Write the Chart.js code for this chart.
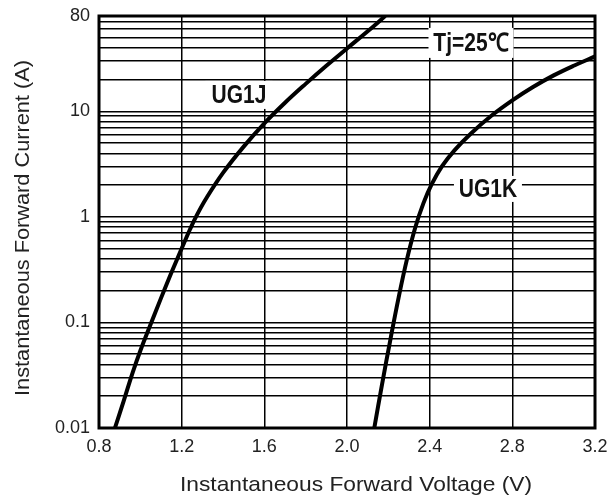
<!DOCTYPE html>
<html lang="en">
  <head>
    <meta charset="utf-8">
    <title>Forward Characteristics</title>
    <style>
      body {
        margin: 0;
        background: #fff;
      }
      #chart-box {
        width: 608px;
        height: 499px;
      }
    </style>
    <script src="https://cdn.jsdelivr.net/npm/chart.js@4.4.4/dist/chart.umd.min.js"></script>
  </head>
  <body>
    <div id="chart-box"><canvas id="iv-plot" width="608" height="499"></canvas></div>
    <script>
      // values (V, A)
      const ug1j_voltage = [0.877, 0.92, 0.964, 1.0, 1.047, 1.1, 1.15, 1.202, 1.24, 1.274, 1.32, 1.4, 1.5, 1.6, 1.7, 1.8, 1.9, 2.0, 2.1, 2.185];
      const ug1j_current = [0.01, 0.0182, 0.034, 0.054, 0.093, 0.17, 0.295, 0.513, 0.76, 1.045, 1.51, 2.61, 4.63, 7.69, 12.05, 18.2, 27.0, 39.4, 57.3, 80];
      const ug1k_voltage = [2.132, 2.17, 2.21, 2.25, 2.29, 2.33, 2.37, 2.41, 2.46, 2.52, 2.6, 2.7, 2.8, 2.9, 3.0, 3.1, 3.2];
      const ug1k_current = [0.01, 0.0262, 0.0689, 0.173, 0.396, 0.79, 1.35, 2.04, 3.02, 4.27, 6.17, 9.12, 12.7, 17.0, 21.9, 27.2, 33.1];

      const x_ticks = [0.8, 1.2, 1.6, 2.0, 2.4, 2.8, 3.2];
      const y_gridlines = [
        0.01, 0.02, 0.03, 0.04, 0.05, 0.06, 0.07, 0.08, 0.09,
        0.1, 0.2, 0.3, 0.4, 0.5, 0.6, 0.7, 0.8, 0.9,
        1, 2, 3, 4, 5, 6, 7, 8, 9,
        10, 20, 30, 40, 50, 60, 70, 80,
      ];
      const y_tick_labels = [0.01, 0.1, 1, 10, 80];

      const x_title = 'Instantaneous Forward Voltage (V)';
      const y_title = 'Instantaneous Forward Current (A)';

      const label_font = '"Liberation Sans", Arial, sans-serif';

      function toPoints(xs, ys) {
        return xs.map((v, i) => ({x: v, y: ys[i]}));
      }

      const frame_plugin = {
        id: 'frame',
        beforeDatasetsDraw(chart) {
          const ctx = chart.ctx;
          const x = chart.scales.x;
          const y = chart.scales.y;
          // curve names sit in white boxes that blank the grid
          const notes = [
            {text: 'UG1J', v: 1.477, i: 14.3, w: 67, h: 28},
            {text: 'UG1K', v: 2.682, i: 1.84, w: 68, h: 26},
            {text: 'Tj=25\u2103', v: 2.60, i: 44.5, w: 85, h: 30},
          ];
          notes.forEach(note => {
            const cx = x.getPixelForValue(note.v);
            const cy = y.getPixelForValue(note.i);
            ctx.save();
            ctx.fillStyle = '#fff';
            ctx.fillRect(cx - note.w / 2, cy - note.h / 2, note.w, note.h);
            ctx.translate(cx, cy);
            ctx.scale(1, 1.2);
            ctx.font = 'bold 21px ' + label_font;
            ctx.textAlign = 'center';
            ctx.textBaseline = 'middle';
            ctx.fillStyle = '#111';
            ctx.fillText(note.text, 0, 1);
            ctx.restore();
          });
        },
        afterDatasetsDraw(chart) {
          const ctx = chart.ctx;
          const a = chart.chartArea;
          ctx.save();
          ctx.lineWidth = 3;
          ctx.strokeStyle = '#000';
          ctx.strokeRect(a.left, a.top, a.right - a.left, a.bottom - a.top);

          // axis titles
          ctx.fillStyle = '#222';
          ctx.font = '21px ' + label_font;
          ctx.textAlign = 'center';
          ctx.textBaseline = 'middle';
          ctx.save();
          ctx.translate((a.left + a.right) / 2 + 9, chart.height - 14);
          ctx.scale(1.085, 1);
          ctx.fillText(x_title, 0, 0);
          ctx.restore();
          ctx.save();
          ctx.translate(23, (a.top + a.bottom) / 2 + 6);
          ctx.rotate(-Math.PI / 2);
          ctx.scale(1.035, 1);
          ctx.fillText(y_title, 0, 0);
          ctx.restore();
          ctx.restore();
        }
      };

      const line_style = {
        borderColor: '#000',
        borderWidth: 4,
        pointRadius: 0,
        fill: false,
        tension: 0.4,
      };

      new Chart(document.getElementById('iv-plot'), {
        type: 'line',
        data: {
          datasets: [
            Object.assign({label: 'UG1J', data: toPoints(ug1j_voltage, ug1j_current)}, line_style),
            Object.assign({label: 'UG1K', data: toPoints(ug1k_voltage, ug1k_current)}, line_style),
          ]
        },
        options: {
          responsive: false,
          animation: false,
          layout: {
            padding: {top: 16, right: 13, left: 0, bottom: 0}
          },
          plugins: {
            legend: {display: false},
            tooltip: {enabled: false}
          },
          scales: {
            x: {
              type: 'linear',
              min: 0.8,
              max: 3.2,
              afterBuildTicks: scale => {
                scale.ticks = x_ticks.map(v => ({value: v}));
              },
              afterFit: scale => {
                scale.height = 71;
                scale.paddingLeft = 0;
                scale.paddingRight = 0;
              },
              grid: {color: '#000', lineWidth: 1.5, drawTicks: false},
              border: {display: false},
              ticks: {
                padding: 8,
                color: '#222',
                font: {family: label_font, size: 18},
                callback: value => value.toFixed(1)
              }
            },
            y: {
              type: 'logarithmic',
              min: 0.01,
              max: 80,
              afterBuildTicks: scale => {
                scale.ticks = y_gridlines.map(v => ({value: v}));
              },
              afterFit: scale => {
                scale.width = 99;
                scale.paddingTop = 0;
                scale.paddingBottom = 0;
              },
              grid: {color: '#000', lineWidth: 1.5, drawTicks: false},
              border: {display: false},
              ticks: {
                autoSkip: false,
                padding: 9,
                color: '#222',
                font: {family: label_font, size: 18},
                callback: value => y_tick_labels.includes(value) ? String(value) : ''
              }
            }
          }
        },
        plugins: [frame_plugin]
      });
    </script>
  </body>
</html>
